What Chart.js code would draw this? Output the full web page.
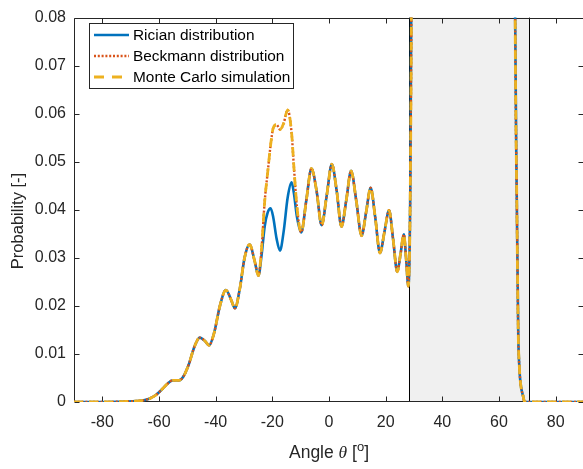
<!DOCTYPE html>
<html>
<head>
<meta charset="utf-8">
<script src="https://cdn.jsdelivr.net/npm/chart.js@4/dist/chart.umd.min.js"></script>
<style>
  html, body { margin: 0; padding: 0; background: #fff; overflow: hidden; }
  #wrap { position: relative; width: 590px; height: 469px; }
</style>
</head>
<body>
<div id="wrap"><canvas id="c"></canvas></div>
<script>
// ---- data ----
const angles = [-90,-80,-72,-68,-65,-63,-61,-59,-57,-55.2,-53,-51.5,-49.5,-47.5,-45.6,-43.8,-42.3,-40.5,-38.5,-36.4,-34.5,-33.2,-31.5,-29.8,-28.0,-26.3,-24.9,
  -23.8,-22.7,-21.6,-20.6,-19.7,-18.5,-17.3,-16.0,-14.6,-13.2,-12.4,-11.3,
  -9.8,-8.0,-6.2,-4.4,-2.6,-0.8,1.0,2.7,4.4,6.1,7.8,9.6,11.5,13.1,14.7,16.3,18.0,19.6,21.2,22.6,24.1,25.3,26.4,27.2,28.0,28.7,29.2,29.6,30.5,40,50,60,65.0,65.7,66.3,66.8,67.2,67.6,68.6,69.0,75,90];

const rician = [0,0,0.0001,0.0002,0.0004,0.0008,0.0015,0.0026,0.0038,0.0045,0.0045,0.0052,0.0078,0.0115,0.0134,0.0127,0.0118,0.0145,0.0200,0.0233,0.0212,0.0195,0.0235,0.0300,0.0328,0.0295,0.0263,
  0.0305,0.0365,0.0395,0.0403,0.0385,0.0340,0.0315,0.0355,0.0425,0.0457,0.0435,0.0385,
  0.0353,0.0420,0.0486,0.0440,0.0368,0.0430,0.0495,0.0440,0.0365,0.0420,0.0481,0.0420,0.0346,0.0395,0.0446,0.0385,0.0310,0.0355,0.0399,0.0340,0.0271,0.0310,0.0349,0.0300,0.0241,0.0450,0.1000,0.2000,0.2500,0.2500,0.2500,0.2500,0.2000,0.0800,0.0410,0.0140,0.0071,0.0039,0.0010,0,0,0];

const beckmann = [0,0,0.0001,0.0002,0.0004,0.0008,0.0015,0.0026,0.0038,0.0045,0.0045,0.0052,0.0078,0.0115,0.0134,0.0127,0.0118,0.0145,0.0200,0.0233,0.0212,0.0195,0.0235,0.0300,0.0328,0.0295,0.0263,
  0.0320,0.0417,0.0480,0.0535,0.0570,0.0577,0.0567,0.0580,0.0608,0.0560,0.0490,0.0405,
  0.0353,0.0420,0.0486,0.0440,0.0368,0.0430,0.0495,0.0440,0.0365,0.0420,0.0481,0.0420,0.0346,0.0395,0.0446,0.0385,0.0310,0.0355,0.0399,0.0340,0.0271,0.0310,0.0349,0.0300,0.0241,0.0450,0.1000,0.2000,0.2500,0.2500,0.2500,0.2500,0.2000,0.0800,0.0410,0.0140,0.0071,0.0039,0.0010,0,0,0];

const monteCarlo = [0,0,0.0001,0.0002,0.0004,0.0008,0.0015,0.0026,0.0038,0.0045,0.0045,0.0052,0.0078,0.0115,0.0134,0.0127,0.0118,0.0145,0.0200,0.0233,0.0212,0.0195,0.0235,0.0300,0.0328,0.0295,0.0263,
  0.0320,0.0417,0.0480,0.0535,0.0570,0.0577,0.0567,0.0580,0.0608,0.0560,0.0490,0.0405,
  0.0353,0.0420,0.0486,0.0440,0.0368,0.0430,0.0495,0.0440,0.0365,0.0420,0.0481,0.0420,0.0346,0.0395,0.0446,0.0385,0.0310,0.0355,0.0399,0.0340,0.0271,0.0310,0.0349,0.0300,0.0241,0.0450,0.1000,0.2000,0.2500,0.2500,0.2500,0.2500,0.2000,0.0800,0.0410,0.0140,0.0071,0.0039,0.0010,0,0,0];

const seriesNames = ['Rician distribution', 'Beckmann distribution', 'Monte Carlo simulation'];
const xTicks = [-80,-60,-40,-20,0,20,40,60,80];
const xTickLabels = ['-80','-60','-40','-20','0','20','40','60','80'];
const yTicks = [0,0.01,0.02,0.03,0.04,0.05,0.06,0.07,0.08];
const yTickLabels = ['0','0.01','0.02','0.03','0.04','0.05','0.06','0.07','0.08'];
const shadedRegion = [28.2, 70.6];
const xRange = [-90, 90];
const yRange = [0, 0.08];
const yTitle = 'Probability [-]';

// ---- styling ----
const FONT = "'Liberation Sans', Arial, Helvetica, sans-serif";
const AXIS_COLOR = '#262626';
const styles = [
  { color: '#0072BD', width: 2.6, dash: [] },
  { color: '#D95319', width: 2.4, dash: [2, 1.8] },
  { color: '#EDB120', width: 2.8, dash: [9, 6] }
];
const seriesData = [rician, beckmann, monteCarlo];

const datasets = seriesData.map((vals, i) => ({
  label: seriesNames[i],
  data: angles.map((a, k) => ({ x: a, y: vals[k] })),
  borderColor: styles[i].color,
  borderWidth: styles[i].width,
  borderDash: styles[i].dash,
  pointRadius: 0,
  fill: false,
  cubicInterpolationMode: 'monotone',
  order: 3 - i
}));

const framePlugin = {
  id: 'frame',
  beforeDatasetsDraw(chart) {
    const { ctx, chartArea: a, scales: { x, y } } = chart;
    ctx.save();
    // shaded region
    const x0 = x.getPixelForValue(shadedRegion[0]);
    const x1 = x.getPixelForValue(shadedRegion[1]);
    ctx.fillStyle = '#F0F0F0';
    ctx.fillRect(x0, a.top, x1 - x0, a.bottom - a.top);
    ctx.strokeStyle = '#000';
    ctx.lineWidth = 1;
    ctx.beginPath();
    ctx.moveTo(Math.round(x0) + 0.5, a.top); ctx.lineTo(Math.round(x0) + 0.5, a.bottom);
    ctx.moveTo(Math.round(x1) + 0.5, a.top); ctx.lineTo(Math.round(x1) + 0.5, a.bottom);
    ctx.stroke();
    // axes box
    const L = Math.round(a.left) + 0.5, R = Math.round(a.right) - 0.5;
    const T = Math.round(a.top) + 0.5, B = Math.round(a.bottom) - 0.5;
    ctx.strokeStyle = AXIS_COLOR;
    ctx.lineWidth = 1;
    ctx.beginPath();
    ctx.rect(L, T, R - L, B - T);
    // inward ticks
    const tl = 5;
    xTicks.forEach(v => {
      const px = Math.round(x.getPixelForValue(v)) + 0.5;
      ctx.moveTo(px, B); ctx.lineTo(px, B - tl);
      ctx.moveTo(px, T); ctx.lineTo(px, T + tl);
    });
    yTicks.forEach(v => {
      const py = Math.round(y.getPixelForValue(v)) + 0.5;
      ctx.moveTo(L, py); ctx.lineTo(L + tl, py);
      ctx.moveTo(R, py); ctx.lineTo(R - tl, py);
    });
    ctx.stroke();
    ctx.restore();
  },
  afterDatasetsDraw(chart) {
    const { ctx, chartArea: a } = chart;
    ctx.save();
    // legend box
    const bx = 89.5, by = 23.5, bw = 204, bh = 65;
    ctx.fillStyle = '#fff';
    ctx.fillRect(bx, by, bw, bh);
    ctx.strokeStyle = AXIS_COLOR;
    ctx.lineWidth = 1;
    ctx.strokeRect(bx, by, bw, bh);
    const rowY = [35, 56, 77];
    seriesNames.forEach((name, i) => {
      ctx.beginPath();
      ctx.strokeStyle = styles[i].color;
      ctx.lineWidth = styles[i].width;
      ctx.setLineDash(styles[i].dash.length ? (i === 2 ? [10, 8] : styles[i].dash) : []);
      ctx.moveTo(94, rowY[i]); ctx.lineTo(129, rowY[i]);
      ctx.stroke();
      ctx.setLineDash([]);
      ctx.fillStyle = '#000';
      ctx.font = '15.4px ' + FONT;
      ctx.textAlign = 'left';
      ctx.textBaseline = 'middle';
      ctx.fillText(name, 133, rowY[i] + 0.5);
    });
    // x axis title: "Angle θ [°]" with italic theta and superscript o
    ctx.fillStyle = '#262626';
    ctx.textBaseline = 'alphabetic';
    const parts = [
      { t: 'Angle ', f: '17.5px ' + FONT, dy: 0 },
      { t: '\u03B8', f: 'italic 17.5px "Liberation Serif", "Times New Roman", serif', dy: 0 },
      { t: ' [', f: '17.5px ' + FONT, dy: 0 },
      { t: 'o', f: '13px ' + FONT, dy: -7 },
      { t: ']', f: '17.5px ' + FONT, dy: 0 }
    ];
    let total = 0;
    parts.forEach(p => { ctx.font = p.f; p.w = ctx.measureText(p.t).width; total += p.w; });
    let cx = (a.left + a.right) / 2 - total / 2;
    const baseY = 458;
    ctx.textAlign = 'left';
    parts.forEach(p => { ctx.font = p.f; ctx.fillText(p.t, cx, baseY + p.dy); cx += p.w; });
    // y axis title
    ctx.translate(18, 221);
    ctx.rotate(-Math.PI / 2);
    ctx.font = '16.5px ' + FONT;
    ctx.textAlign = 'center';
    ctx.textBaseline = 'middle';
    ctx.fillText(yTitle, 0, 0);
    ctx.restore();
  }
};

new Chart(document.getElementById('c'), {
  type: 'line',
  data: { datasets },
  options: {
    responsive: true,
    maintainAspectRatio: false,
    devicePixelRatio: 1,
    animation: false,
    layout: { padding: { left: 0, top: 8, right: 6, bottom: 0 } },
    plugins: { legend: { display: false }, tooltip: { enabled: false } },
    scales: {
      x: {
        type: 'linear',
        min: xRange[0], max: xRange[1],
        grid: { display: false, drawTicks: false },
        border: { display: false },
        afterBuildTicks(s) { s.ticks = xTicks.map(v => ({ value: v })); },
        afterFit(s) { s.height = 67; },
        ticks: {
          autoSkip: false, maxRotation: 0, padding: 11,
          color: '#262626', font: { family: FONT, size: 16 },
          callback(v) { const i = xTicks.indexOf(v); return i >= 0 ? xTickLabels[i] : ''; }
        }
      },
      y: {
        type: 'linear',
        min: yRange[0], max: yRange[1],
        grid: { display: false, drawTicks: false },
        border: { display: false },
        afterBuildTicks(s) { s.ticks = yTicks.map(v => ({ value: v })); },
        afterFit(s) { s.width = 74; },
        ticks: {
          autoSkip: false, padding: 8,
          color: '#262626', font: { family: FONT, size: 16 },
          callback(v) { const i = yTicks.findIndex(t => Math.abs(t - v) < 1e-9); return i >= 0 ? yTickLabels[i] : ''; }
        }
      }
    }
  },
  plugins: [framePlugin]
});
</script>
</body>
</html>
